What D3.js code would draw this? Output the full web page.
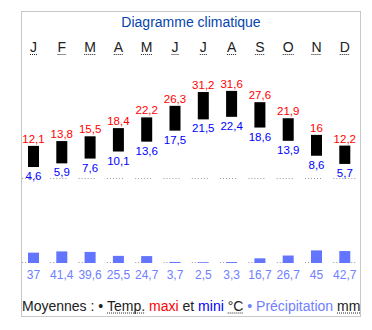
<!DOCTYPE html>
<html>
<head>
<meta charset="utf-8">
<script src="https://cdn.jsdelivr.net/npm/d3@7"></script>
<style>
  html, body { margin: 0; padding: 0; background: #fff; }
  svg { display: block; font-family: "Liberation Sans", Arial, sans-serif; }
  text { white-space: pre; }
</style>
</head>
<body>
<svg id="chart" width="372" height="330"></svg>
<script>
// Monthly climate normals
const months = ["J", "F", "M", "A", "M", "J", "J", "A", "S", "O", "N", "D"];
const tempMax = [12.1, 13.8, 15.5, 18.4, 22.2, 26.3, 31.2, 31.6, 27.6, 21.9, 16, 12.2];
const tempMin = [4.6, 5.9, 7.6, 10.1, 13.6, 17.5, 21.5, 22.4, 18.6, 13.9, 8.6, 5.7];
const precip = [37, 41.4, 39.6, 25.5, 24.7, 3.7, 2.5, 3.3, 16.7, 26.7, 45, 42.7];

const svg = d3.select("#chart");
const fmt = v => String(v).replace(".", ",");

const idx = d3.range(months.length);
const x = d3.scalePoint().domain(idx).range([33.5, 344.8]);
const yT = d3.scaleLinear().domain([0, 10]).range([180, 151.8]);
const yP = d3.scaleLinear().domain([0, 100]).range([263, 235]);
const barW = 11;

const red = "#ff0000", blue = "#0000ff", rainBar = "#6374ff", rainText = "#7080ff";

// frame
svg.append("rect").attr("x", 21.5).attr("y", 11.5).attr("width", 339).attr("height", 305)
  .attr("fill", "none").attr("stroke", "#c8c8c8");

// title
svg.append("text").attr("x", 191).attr("y", 27).attr("text-anchor", "middle")
  .attr("font-size", 14).attr("fill", "#0645ad").text("Diagramme climatique");

// month initials with dotted underline
const mg = svg.append("g");
idx.forEach(i => {
  const t = mg.append("text").attr("x", x(i)).attr("y", 52).attr("text-anchor", "middle")
    .attr("font-size", 14).attr("fill", "#202122").text(months[i]);
  const w = t.node().getComputedTextLength();
  mg.append("line").attr("x1", x(i) - w / 2).attr("x2", x(i) + w / 2)
    .attr("y1", 54.5).attr("y2", 54.5).attr("stroke", "#202122")
    .attr("stroke-dasharray", "1,1");
});

// dotted baselines under each month column
function baseline(y) {
  svg.append("g").selectAll("line").data(idx).join("line")
    .attr("x1", i => x(i) - 11.5)
    .attr("x2", i => x(i) + (i === idx.length - 1 ? 11 : 5.5))
    .attr("y1", y).attr("y2", y)
    .attr("stroke", "#999").attr("stroke-dasharray", "1,2");
}
baseline(178.5);
baseline(262.5);

// temperature bars (min to max)
svg.append("g").selectAll("rect").data(idx).join("rect")
  .attr("x", i => x(i) - barW / 2)
  .attr("y", i => yT(tempMax[i]))
  .attr("width", barW)
  .attr("height", i => yT(tempMin[i]) - yT(tempMax[i]))
  .attr("fill", "#000");

svg.append("g").selectAll("text").data(idx).join("text")
  .attr("x", i => x(i)).attr("y", i => yT(tempMax[i]) - 3)
  .attr("text-anchor", "middle").attr("font-size", 11.5).attr("fill", red)
  .text(i => fmt(tempMax[i]));

svg.append("g").selectAll("text").data(idx).join("text")
  .attr("x", i => x(i)).attr("y", i => yT(tempMin[i]) + 13)
  .attr("text-anchor", "middle").attr("font-size", 11.5).attr("fill", blue)
  .text(i => fmt(tempMin[i]));

// precipitation bars
svg.append("g").selectAll("rect").data(idx).join("rect")
  .attr("x", i => x(i) - barW / 2)
  .attr("y", i => yP(precip[i]))
  .attr("width", barW)
  .attr("height", i => yP(0) - yP(precip[i]))
  .attr("fill", rainBar);

svg.append("g").selectAll("text").data(idx).join("text")
  .attr("x", i => x(i)).attr("y", 278.5)
  .attr("text-anchor", "middle").attr("font-size", 12).attr("fill", rainText)
  .text(i => fmt(precip[i]));

// legend line
const legend = [
  { t: "Moyennes : ", c: "#202122" },
  { t: "•", c: "#202122" },
  { t: " ", c: "#202122" },
  { t: "Temp.", c: "#202122", u: true },
  { t: " ", c: "#202122" },
  { t: "maxi", c: red },
  { t: " et ", c: "#202122" },
  { t: "mini", c: blue },
  { t: " ", c: "#202122" },
  { t: "°C", c: "#202122", u: true },
  { t: " ", c: "#202122" },
  { t: "•", c: rainText },
  { t: " ", c: "#202122" },
  { t: "Précipitation", c: rainText },
  { t: " ", c: "#202122" },
  { t: "mm", c: "#202122", u: true }
];
const lg = svg.append("g");
let lx = 22;
legend.forEach(p => {
  const t = lg.append("text").attr("x", lx).attr("y", 310.5).attr("font-size", 14)
    .attr("fill", p.c).text(p.t);
  const w = t.node().getComputedTextLength();
  if (p.u) {
    lg.append("line").attr("x1", lx).attr("x2", lx + w).attr("y1", 313).attr("y2", 313)
      .attr("stroke", "#202122").attr("stroke-dasharray", "1,1");
  }
  lx += w;
});
</script>
</body>
</html>
